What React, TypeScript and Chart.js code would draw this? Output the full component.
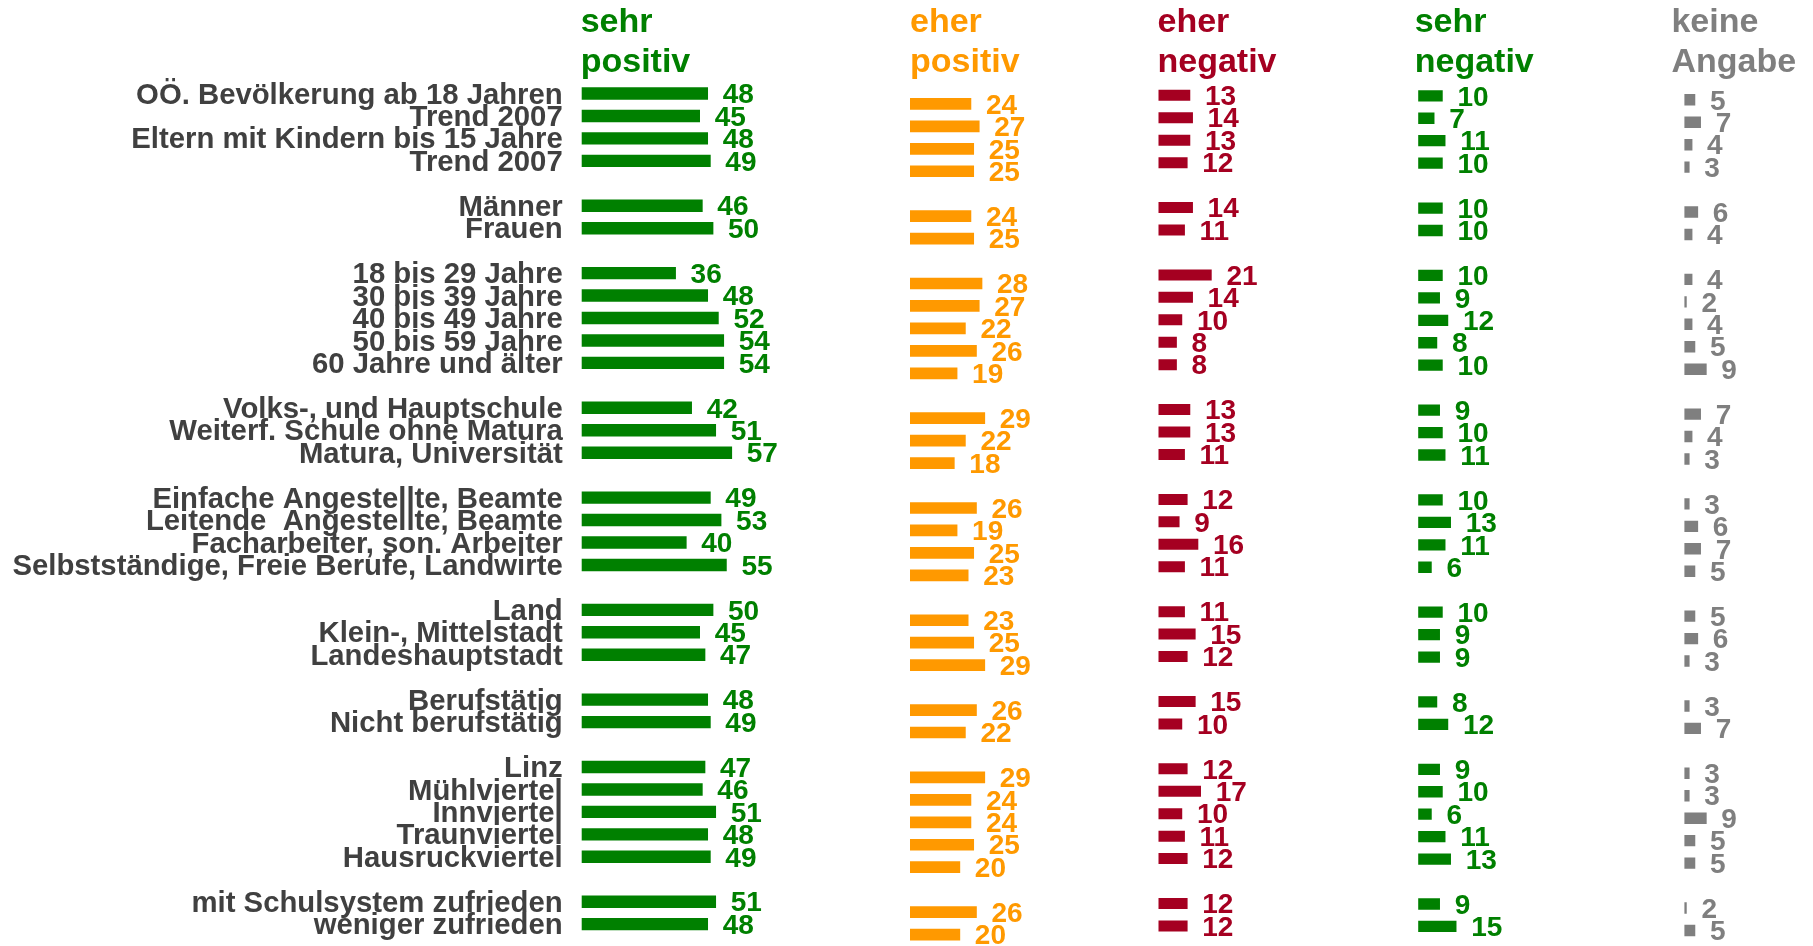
import React, { useEffect, useRef } from 'react';
import { Chart, registerables } from 'chart.js';

Chart.register(...registerables);

// ---------- DATA (null = spacer row between groups) ----------
const categories: string[] = [
  'OÖ. Bevölkerung ab 18 Jahren', 'Trend 2007', 'Eltern mit Kindern bis 15 Jahre', 'Trend 2007', '',
  'Männer', 'Frauen', '',
  '18 bis 29 Jahre', '30 bis 39 Jahre', '40 bis 49 Jahre', '50 bis 59 Jahre', '60 Jahre und älter', '',
  'Volks-, und Hauptschule', 'Weiterf. Schule ohne Matura', 'Matura, Universität', '',
  'Einfache Angestellte, Beamte', 'Leitende  Angestellte, Beamte', 'Facharbeiter, son. Arbeiter', 'Selbstständige, Freie Berufe, Landwirte', '',
  'Land', 'Klein-, Mittelstadt', 'Landeshauptstadt', '',
  'Berufstätig', 'Nicht berufstätig', '',
  'Linz', 'Mühlviertel', 'Innviertel', 'Traunviertel', 'Hausruckviertel', '',
  'mit Schulsystem zufrieden', 'weniger zufrieden',
];

const sehrPositiv = [48, 45, 48, 49, null, 46, 50, null, 36, 48, 52, 54, 54, null, 42, 51, 57, null, 49, 53, 40, 55, null, 50, 45, 47, null, 48, 49, null, 47, 46, 51, 48, 49, null, 51, 48];
const eherPositiv = [24, 27, 25, 25, null, 24, 25, null, 28, 27, 22, 26, 19, null, 29, 22, 18, null, 26, 19, 25, 23, null, 23, 25, 29, null, 26, 22, null, 29, 24, 24, 25, 20, null, 26, 20];
const eherNegativ = [13, 14, 13, 12, null, 14, 11, null, 21, 14, 10, 8, 8, null, 13, 13, 11, null, 12, 9, 16, 11, null, 11, 15, 12, null, 15, 10, null, 12, 17, 10, 11, 12, null, 12, 12];
const sehrNegativ = [10, 7, 11, 10, null, 10, 10, null, 10, 9, 12, 8, 10, null, 9, 10, 11, null, 10, 13, 11, 6, null, 10, 9, 9, null, 8, 12, null, 9, 10, 6, 11, 13, null, 9, 15];
const keineAngabe = [5, 7, 4, 3, null, 6, 4, null, 4, 2, 4, 5, 9, null, 7, 4, 3, null, 3, 6, 7, 5, null, 5, 6, 3, null, 3, 7, null, 3, 3, 9, 5, 5, null, 2, 5];

const headerSehrPositiv = ['sehr', 'positiv'];
const headerEherPositiv = ['eher', 'positiv'];
const headerEherNegativ = ['eher', 'negativ'];
const headerSehrNegativ = ['sehr', 'negativ'];
const headerKeineAngabe = ['keine', 'Angabe'];

// ---------- STYLE / LAYOUT ----------
const FONT = '"Liberation Sans", Arial, Helvetica, sans-serif';
const PAGE_W = 1813;
const PAGE_H = 946;
const ROW_PITCH = 22.45;
const FIRST_ROW_CENTER = 93.5;
const HEADER_BASELINES = [31.7, 71.7];
const CANVAS_LEAD = 24;

const columns = [
  { data: sehrPositiv, header: headerSehrPositiv, color: '#008000', start: 581.7, end: 900, slope: 2.675, v0: 0.9, dy: 0, thick: 11.7, headerDx: -1 },
  { data: eherPositiv, header: headerEherPositiv, color: '#FF9900', start: 910, end: 1140, slope: 2.77, v0: 2.0, dy: 10.4, thick: 11, headerDx: 0 },
  { data: eherNegativ, header: headerEherNegativ, color: '#A50021', start: 1158.5, end: 1400, slope: 2.68, v0: 1.27, dy: 1.8, thick: 10.3, headerDx: -1 },
  { data: sehrNegativ, header: headerSehrNegativ, color: '#008000', start: 1418.2, end: 1660, slope: 2.75, v0: 1.2, dy: 2.3, thick: 10.6, headerDx: -3.5 },
  { data: keineAngabe, header: headerKeineAngabe, color: '#7F7F7F', start: 1684.4, end: PAGE_W, slope: 2.85, v0: 1.3, dy: 6.3, thick: 10.7, headerDx: -13 },
];

function layoutFor(i: number) {
  const col = columns[i];
  const isFirst = i === 0;
  const canvasLeft = isFirst ? 0 : Math.floor(col.start) - CANVAS_LEAD;
  const canvasWidth = Math.round(col.end - canvasLeft);
  const padLeft = isFirst ? 0 : col.start - canvasLeft;
  const axisWidth = isFirst ? col.start : 0;
  const areaWidth = canvasWidth - padLeft - axisWidth;
  const areaTop = FIRST_ROW_CENTER - ROW_PITCH / 2 + col.dy;
  const areaHeight = ROW_PITCH * categories.length;
  const padBottom = Math.max(0, PAGE_H - areaTop - areaHeight);
  return { canvasLeft, canvasWidth, padLeft, axisWidth, areaWidth, areaTop, padBottom };
}

const annotatePlugin = {
  id: 'annotate',
  afterDatasetsDraw(chart: any, _args: any, opts: any) {
    const { ctx, chartArea } = chart;
    const meta = chart.getDatasetMeta(0);
    const data = chart.data.datasets[0].data;
    ctx.save();
    ctx.fillStyle = opts.color;
    ctx.font = `bold 28px ${FONT}`;
    ctx.textAlign = 'left';
    ctx.textBaseline = 'middle';
    meta.data.forEach((el: any, idx: number) => {
      const v = data[idx];
      if (v === null || v === undefined) return;
      ctx.fillText(String(v), el.x + 15, el.y + 2);
    });
    ctx.font = `bold 34px ${FONT}`;
    ctx.textBaseline = 'alphabetic';
    const lines: string[] = opts.header;
    for (let k = 0; k < lines.length; k++) {
      ctx.fillText(lines[k], chartArea.left + opts.headerDx, HEADER_BASELINES[k]);
    }
    ctx.restore();
  },
};

export default function App() {
  const refs = useRef<(HTMLCanvasElement | null)[]>([]);

  useEffect(() => {
    const charts = columns.map((col, i) => {
      const L = layoutFor(i);
      const isFirst = i === 0;
      const canvas = refs.current[i] as HTMLCanvasElement;
      return new Chart(canvas, {
        type: 'bar',
        data: {
          labels: categories,
          datasets: [
            {
              data: col.data as any,
              backgroundColor: col.color,
              borderWidth: 0,
              barThickness: col.thick,
            },
          ],
        },
        options: {
          animation: false,
          responsive: false,
          maintainAspectRatio: false,
          indexAxis: 'y',
          events: [],
          layout: {
            padding: { left: L.padLeft, right: 0, top: L.areaTop, bottom: L.padBottom },
          },
          scales: {
            x: {
              type: 'linear',
              display: false,
              min: col.v0,
              max: col.v0 + L.areaWidth / col.slope,
            },
            y: {
              type: 'category',
              display: isFirst,
              grid: { display: false, drawTicks: false },
              border: { display: false },
              ticks: {
                autoSkip: false,
                padding: 19,
                labelOffset: 2,
                color: '#404040',
                font: { family: FONT, size: 29.3, weight: 'bold' },
              },
              afterFit: (scale: any) => {
                if (isFirst) {
                  scale.width = L.axisWidth;
                  scale.paddingTop = 0;
                  scale.paddingBottom = 0;
                }
              },
            },
          },
          plugins: {
            legend: { display: false },
            tooltip: { enabled: false },
            title: { display: false },
            annotate: { color: col.color, header: col.header, headerDx: col.headerDx },
          } as any,
        },
        plugins: [annotatePlugin as any],
      });
    });
    return () => charts.forEach((c) => c.destroy());
  }, []);

  return (
    <div
      style={{
        position: 'absolute',
        left: 0,
        top: 0,
        width: PAGE_W,
        height: PAGE_H,
        background: '#ffffff',
        overflow: 'hidden',
      }}
    >
      {columns.map((_c, i) => {
        const L = layoutFor(i);
        return (
          <canvas
            key={i}
            ref={(el) => {
              refs.current[i] = el;
            }}
            width={L.canvasWidth}
            height={PAGE_H}
            style={{ position: 'absolute', left: L.canvasLeft, top: 0, width: L.canvasWidth, height: PAGE_H, display: 'block' }}
          />
        );
      })}
    </div>
  );
}
